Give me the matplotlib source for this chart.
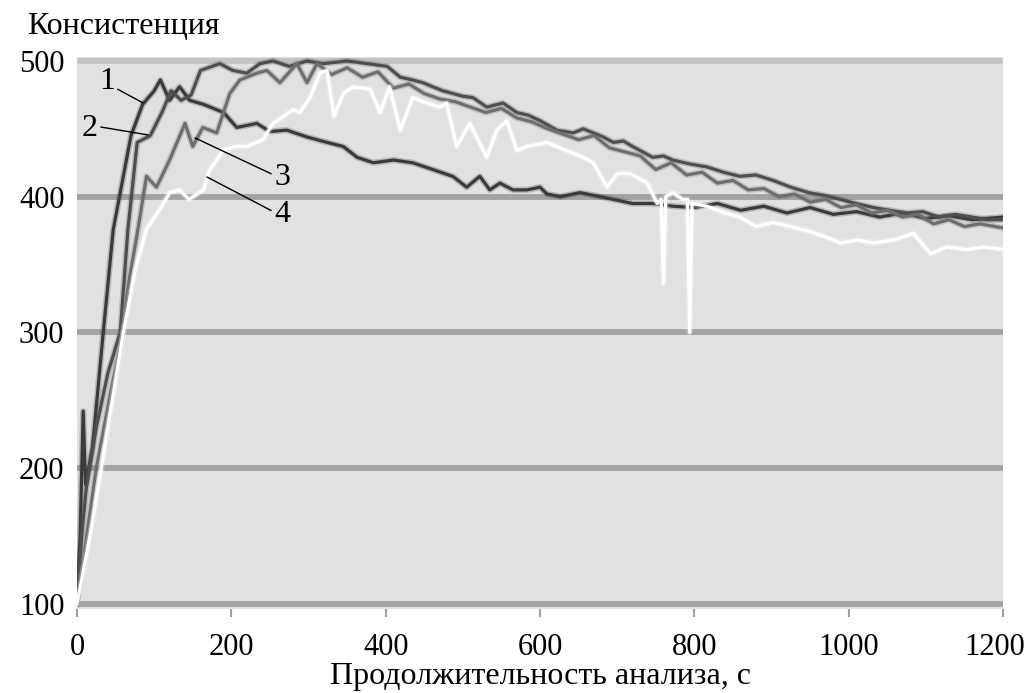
import numpy as np
import matplotlib.pyplot as plt
import matplotlib.patheffects as pe
from matplotlib.transforms import ScaledTranslation

plt.rcParams['font.family'] = ['Liberation Serif', 'DejaVu Serif']

# кривая 1 (самая тёмная)
x1 = [0, 4, 8, 11, 20, 34, 47, 56, 70, 85, 100, 108, 120, 133, 146, 164, 190, 207, 233, 250,
      272, 298, 324, 345, 363, 384, 410, 435, 461, 487, 505, 522, 535, 548, 565, 583, 600, 609,
      626, 652, 678, 695, 720, 746, 772, 800, 830, 860, 890, 920, 950, 980, 1010, 1040, 1070,
      1100, 1130, 1160, 1200]
y1 = [103, 150, 242, 188, 215, 300, 376, 403, 445, 468, 478, 486, 471, 481, 471, 468, 462, 451, 454, 448,
      449, 444, 440, 437, 429, 425, 427, 425, 420, 415, 407, 415, 405, 410, 405, 405, 407, 402,
      400, 403, 400, 398, 395, 395, 393, 392, 395, 390, 393, 388, 392, 387, 389, 385, 388,
      384, 386, 383, 385]

# кривая 2
x2 = [0, 6, 12, 25, 40, 56, 66, 78, 95, 110, 122, 135, 148, 160, 185, 202, 220, 237, 254, 275,
      298, 319, 350, 376, 402, 419, 435, 448, 461, 474, 487, 500, 513, 531, 552, 570, 585, 600,
      622, 643, 656, 669, 682, 695, 708, 720, 733, 746, 760, 772, 795, 816, 838, 859, 880, 902,
      925, 948, 968, 989, 1010, 1032, 1053, 1075, 1096, 1117, 1138, 1160, 1180, 1200]
y2 = [100, 150, 185, 230, 270, 300, 376, 440, 445, 462, 478, 471, 475, 493, 498, 493, 491, 498, 500, 496,
      500, 498, 500, 498, 496, 488, 486, 484, 481, 478, 476, 474, 473, 466, 469, 462, 460, 456,
      449, 447, 450, 447, 444, 440, 441, 437, 433, 429, 430, 427, 424, 422, 418, 415, 416, 412,
      407, 403, 401, 398, 395, 392, 390, 388, 389, 385, 387, 385, 383, 383]

# кривая 3
x3 = [0, 10, 25, 45, 56, 68, 79, 90, 103, 120, 140, 150, 163, 181, 198, 211, 233, 246, 263, 285,
      298, 311, 330, 350, 370, 390, 410, 430, 450, 470, 490, 510, 530, 550, 570, 590, 610, 630,
      650, 670, 690, 710, 730, 750, 770, 790, 810, 830, 850, 870, 890, 910, 930, 950, 970, 990,
      1010, 1030, 1050, 1070, 1090, 1110, 1130, 1150, 1170, 1200]
y3 = [100, 140, 200, 260, 290, 340, 376, 415, 407, 427, 454, 437, 451, 447, 476, 486, 491, 493, 484, 498,
      484, 498, 490, 495, 488, 492, 480, 483, 476, 472, 470, 466, 462, 465, 458, 455, 450, 446,
      442, 445, 436, 433, 430, 420, 425, 416, 418, 410, 412, 405, 406, 400, 402, 396, 398, 392,
      394, 388, 390, 385, 387, 380, 383, 378, 380, 377]

# кривая 4 (белая)
x4 = [0, 20, 40, 60, 75, 90, 110, 120, 133, 145, 164, 172, 181, 189, 205, 220, 241, 254, 267, 280,
      289, 302, 315, 324, 333, 345, 358, 380, 393, 405, 419, 435, 453, 470, 479, 492, 509, 531,
      544, 557, 570, 583, 609, 630, 656, 669, 687, 700, 717, 739, 752, 757, 760, 763, 772, 785,
      791, 794, 797, 816, 840, 859, 880, 902, 924, 946, 972, 989, 1011, 1032, 1058, 1084, 1106,
      1127, 1153, 1175, 1200]
y4 = [100, 160, 230, 300, 345, 376, 393, 403, 405, 398, 405, 420, 427, 434, 437, 437, 442, 454, 459, 464,
      462, 473, 491, 493, 459, 476, 481, 479, 462, 481, 449, 473, 469, 466, 469, 437, 454, 429,
      449, 456, 434, 437, 440, 435, 429, 425, 407, 417, 417, 410, 395, 398, 336, 400, 403, 398,
      398, 300, 395, 393, 388, 385, 378, 381, 378, 375, 370, 366, 368, 366, 368, 373, 358,
      363, 361, 363, 361]

yticks = [100, 200, 300, 400, 500]
xticks = [0, 200, 400, 600, 800, 1000, 1200]

fig = plt.figure(figsize=(10.31, 6.93), dpi=100)
ax = fig.add_axes([77 / 1031, 1 - 609 / 693, 926 / 1031, 552 / 693])
ax.set_facecolor('#e1e1e1')
for s in ax.spines.values():
    s.set_visible(False)

# толстые серые линии сетки
for v in yticks:
    c = '#c4c4c4' if v == 500 else '#a2a2a2'
    ax.axhline(v, color=c, lw=4.2, zorder=1)

curves = [(x1, y1, '#3a3a3a'), (x2, y2, '#4e4e4e'), (x3, y3, '#6e6e6e'), (x4, y4, '#ffffff')]
for x, y, c in curves:
    ax.plot(x, y, color=c, lw=2.3, zorder=3,
            path_effects=[pe.Stroke(linewidth=4.5, foreground=c, alpha=0.25), pe.Normal()])

ax.set_xlim(0, 1200)
ax.set_ylim(96.3, 502.9)
ax.set_xticks(xticks)
ax.set_yticks(yticks)
ax.tick_params(axis='x', length=6, width=1.5, color='#a0a0a0', pad=11, labelsize=22)
ax.tick_params(axis='y', length=0, pad=9, labelsize=22)

# последняя подпись "1200" чуть левее, чтобы не обрезалась
last = ax.get_xticklabels()[-1]
last.set_transform(last.get_transform() + ScaledTranslation(-0.08, 0, fig.dpi_scale_trans))

ax.set_xlabel('Продолжительность анализа, с', fontsize=23, labelpad=0)
fig.text(27 / 1031, 1 - 27 / 693, 'Консистенция', fontsize=23, ha='left', va='center')

# подписи кривых
labels = [('1', (85.5, 469.1), (38.9, 484.5), (1.0, 0.3)),
          ('2', (92.0, 445.5), (16.8, 450.6), (1.0, 0.55)),
          ('3', (152.9, 443.3), (265.6, 413.8), (0.0, 0.6)),
          ('4', (168.5, 414.5), (265.6, 386.6), (0.0, 0.6))]
for t, tip, pos, rp in labels:
    ax.annotate(t, xy=tip, xytext=pos, ha='center', va='center', fontsize=23, zorder=5,
                arrowprops=dict(arrowstyle='-', lw=1, color='black', shrinkA=0, shrinkB=0,
                                relpos=rp))

fig.savefig('out.png', dpi=100)
